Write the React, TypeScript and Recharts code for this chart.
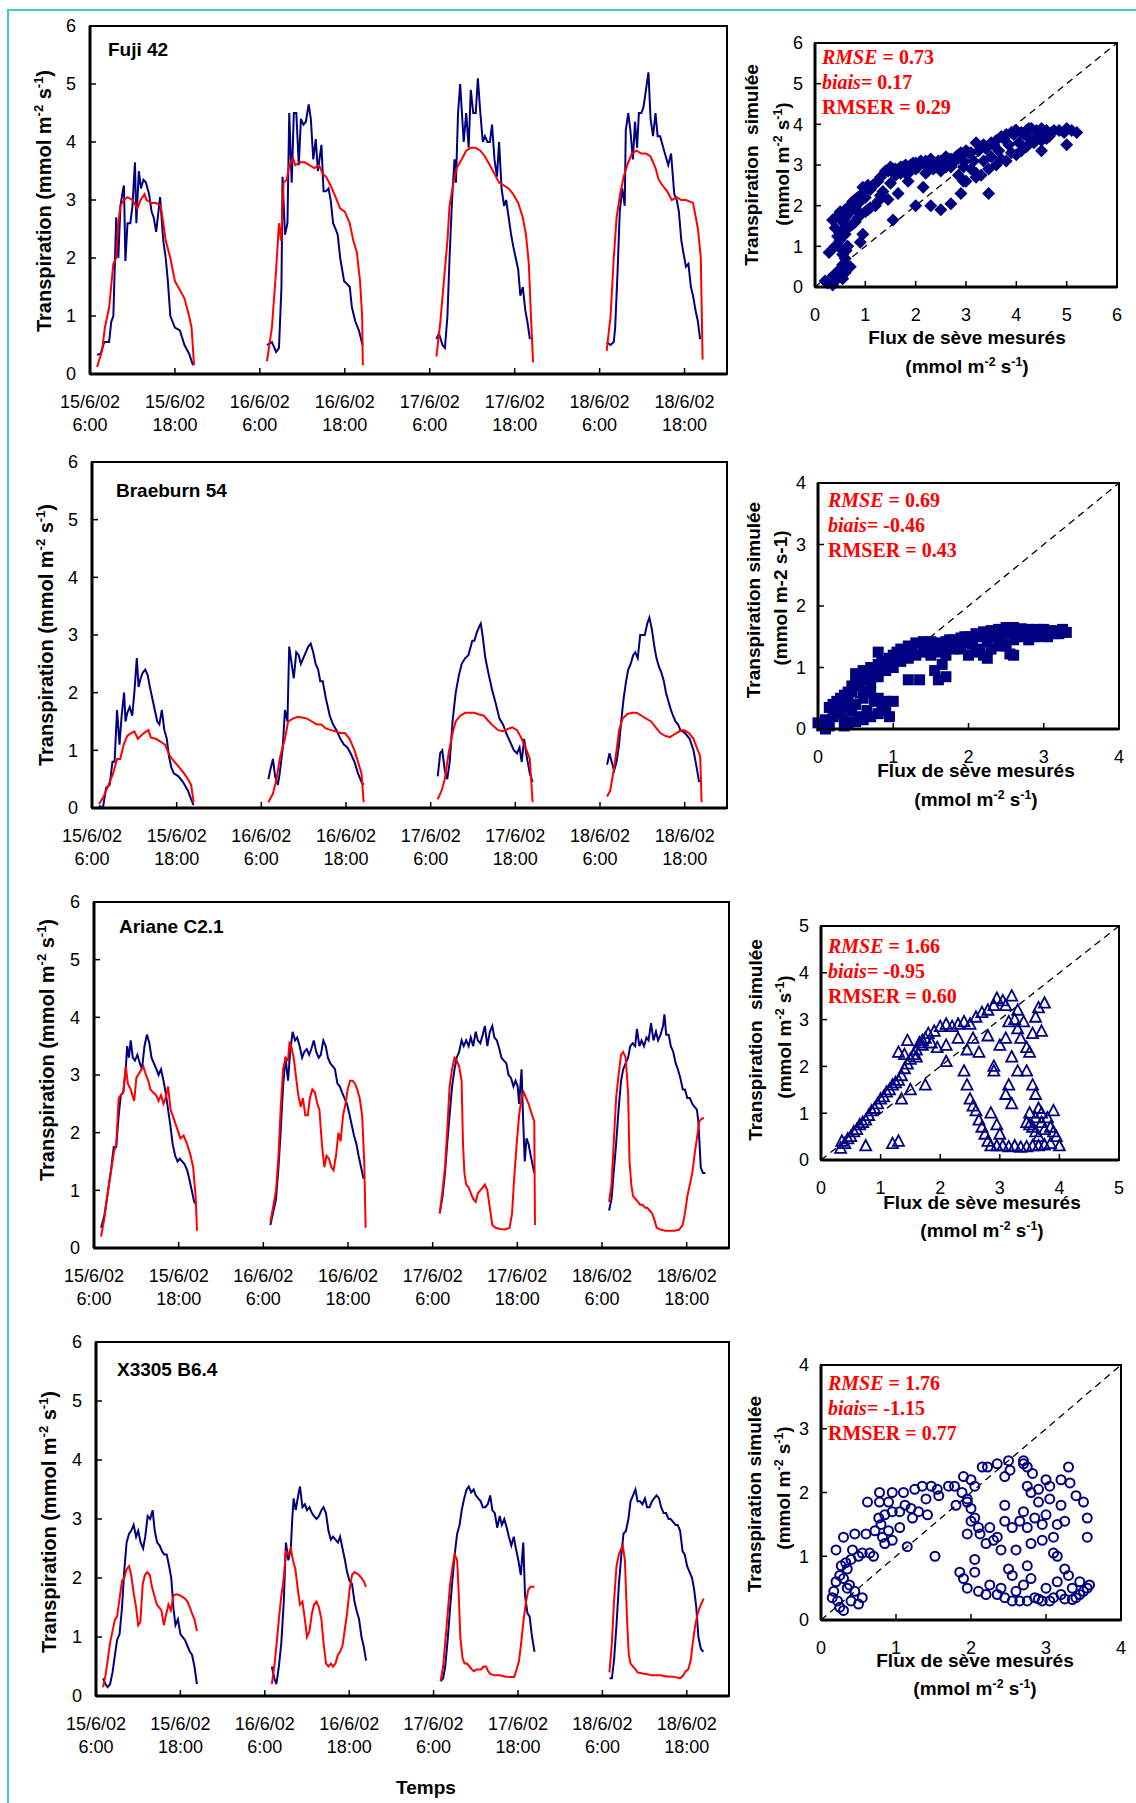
import React from "react";
import { LineChart, Line, XAxis, YAxis, ScatterChart, Scatter, ReferenceLine } from "recharts";

const NAVY = "#000080";
const RED = "#ff0000";
const SANS = '"Liberation Sans", Arial, Helvetica, sans-serif';
const SERIF = '"Liberation Serif", "Times New Roman", serif';

// x axis of the time series: days (15/6 6:00 = 15.25)
const tickDays = [15.25, 15.75, 16.25, 16.75, 17.25, 17.75, 18.25, 18.75];
const tickDates = ["15/6/02", "15/6/02", "16/6/02", "16/6/02", "17/6/02", "17/6/02", "18/6/02", "18/6/02"];
const tickTimes = ["6:00", "18:00", "6:00", "18:00", "6:00", "18:00", "6:00", "18:00"];
const dayStarts = [15, 16, 17, 18];
const yTicks6 = [0, 1, 2, 3, 4, 5, 6];

// [hour of day, transpiration] — Fuji 42
const fujiMes15 = [[7.0,0.33],[7.5,0.35],[8.0,0.55],[8.7,0.55],[9.0,0.9],[9.3,1.0],[9.7,2.7],[10.0,2.0],[10.3,2.9],[10.7,3.2],[10.8,3.25],[11.0,1.95],[11.3,2.6],[11.7,2.6],[12.0,2.9],[12.35,3.65],[12.55,2.6],[12.9,3.5],[13.2,3.2],[13.55,3.35],[13.9,3.3],[14.35,3.1],[14.7,2.8],[15.0,2.7],[15.35,2.45],[15.9,3.05],[16.35,2.3],[16.7,2.0],[17.0,1.6],[17.35,1.0],[18.0,0.8],[18.7,0.75],[19.35,0.5],[20.0,0.35],[20.55,0.15]];
const fujiSim15 = [[7.0,0.12],[7.7,0.4],[8.1,0.8],[8.7,1.15],[9.3,1.9],[9.7,2.0],[10.0,2.6],[10.3,2.9],[10.8,3.0],[11.3,3.05],[12.0,3.0],[12.7,2.85],[13.15,3.0],[13.7,3.1],[14.0,3.0],[14.7,2.95],[15.35,2.95],[16.0,2.9],[16.35,2.6],[16.7,2.3],[17.35,2.0],[18.0,1.6],[18.7,1.45],[19.35,1.3],[20.0,1.0],[20.35,0.8],[20.7,0.15]];
const fujiMes16 = [[7.0,0.5],[7.7,0.55],[8.3,0.38],[8.7,0.45],[9.05,1.5],[9.2,3.4],[9.55,2.4],[9.9,2.6],[10.15,4.5],[10.5,3.3],[10.8,4.5],[11.15,4.5],[11.5,3.6],[11.8,4.4],[12.15,4.3],[12.5,4.35],[12.9,4.65],[13.2,4.4],[13.55,3.7],[13.9,4.05],[14.2,3.5],[14.7,3.95],[15.0,3.15],[15.35,3.15],[15.7,3.2],[16.0,3.0],[16.35,2.6],[16.7,2.5],[17.0,2.4],[17.35,2.0],[17.9,1.6],[18.35,1.55],[18.7,1.5],[19.0,1.15],[19.5,0.9],[20.0,0.75],[20.5,0.5]];
const fujiSim16 = [[7.0,0.22],[7.7,0.8],[8.3,1.8],[8.7,2.6],[9.0,2.3],[9.35,3.3],[9.8,3.35],[10.15,3.6],[10.7,3.72],[11.0,3.6],[11.7,3.65],[12.35,3.65],[13.0,3.6],[13.7,3.55],[14.35,3.6],[14.9,3.45],[15.35,3.4],[16.0,3.25],[16.7,3.05],[17.35,2.85],[18.0,2.8],[18.7,2.6],[19.2,2.3],[19.7,2.1],[20.15,1.6],[20.45,1.0],[20.55,0.15]];
const fujiMes17 = [[6.95,0.6],[7.3,0.7],[7.8,0.5],[8.15,0.45],[8.5,1.0],[8.8,2.0],[9.15,3.0],[9.5,3.7],[9.7,3.3],[10.0,4.5],[10.3,5.0],[10.55,4.5],[10.8,4.0],[11.15,4.5],[11.5,3.9],[11.8,4.9],[12.15,4.5],[12.5,4.5],[12.8,5.1],[13.15,4.5],[13.5,4.0],[13.8,4.1],[14.15,4.0],[14.5,4.0],[14.8,4.3],[15.15,3.7],[15.5,3.4],[15.8,4.0],[16.15,3.2],[16.5,2.9],[16.8,3.0],[17.15,2.7],[17.5,2.4],[17.8,2.2],[18.15,2.0],[18.5,1.8],[18.8,1.35],[19.15,1.5],[19.5,1.1],[19.8,0.9],[20.15,0.6]];
const fujiSim17 = [[6.95,0.3],[7.5,0.9],[8.0,1.6],[8.5,2.3],[8.8,2.9],[9.35,3.3],[9.8,3.55],[10.5,3.7],[11.15,3.85],[11.8,3.9],[12.5,3.9],[13.15,3.85],[13.8,3.75],[14.5,3.6],[15.15,3.45],[15.8,3.3],[16.5,3.25],[17.15,3.2],[17.8,3.1],[18.5,2.95],[19.15,2.7],[19.6,2.4],[20.0,1.9],[20.3,1.0],[20.6,0.2]];
const fujiMes18 = [[7.0,0.55],[7.55,0.5],[8.0,0.55],[8.2,0.8],[8.55,1.8],[8.85,2.8],[9.2,3.2],[9.55,2.9],[9.7,4.2],[10.05,4.5],[10.35,4.2],[10.7,3.7],[11.0,4.35],[11.3,3.9],[11.55,4.5],[11.9,4.5],[12.2,4.6],[12.55,4.9],[12.9,5.2],[13.2,4.4],[13.55,4.1],[13.9,4.5],[14.2,4.1],[14.55,4.1],[15.0,3.9],[15.35,3.75],[15.7,3.6],[16.1,3.8],[16.55,3.1],[16.9,3.0],[17.2,2.8],[17.55,2.3],[17.9,2.05],[18.2,1.85],[18.55,1.9],[18.9,1.5],[19.2,1.35],[19.55,1.1],[19.9,0.9],[20.2,0.6]];
const fujiSim18 = [[7.0,0.4],[7.55,1.0],[8.0,2.0],[8.4,2.7],[8.9,3.1],[9.4,3.4],[9.9,3.6],[10.55,3.8],[11.2,3.85],[11.9,3.8],[12.55,3.8],[13.2,3.75],[13.9,3.55],[14.35,3.35],[14.9,3.25],[15.55,3.15],[16.2,3.0],[16.9,3.05],[17.55,3.0],[18.2,3.0],[19.2,2.95],[19.9,2.5],[20.3,2.0],[20.55,0.25]];

// Braeburn 54
const braeMes15 = [[7.0,0.04],[7.55,0.0],[8.0,0.35],[8.5,0.4],[8.9,0.8],[9.2,0.8],[9.55,1.7],[9.9,1.1],[10.2,1.6],[10.55,2.0],[10.75,1.5],[11.0,1.65],[11.35,1.75],[11.7,1.6],[12.0,2.0],[12.35,2.6],[12.6,2.1],[12.9,2.25],[13.2,2.35],[13.55,2.4],[13.9,2.3],[14.2,2.1],[14.55,1.9],[14.9,1.7],[15.25,1.5],[15.55,1.45],[15.9,1.7],[16.25,1.35],[16.6,1.2],[16.9,0.9],[17.25,0.7],[17.6,0.6],[18.25,0.55],[18.9,0.45],[19.6,0.3],[20.05,0.15],[20.4,0.05]];
const braeSim15 = [[7.0,0.07],[7.65,0.2],[8.35,0.4],[9.0,0.6],[9.55,0.85],[10.0,0.85],[10.5,1.1],[11.0,1.25],[11.55,1.3],[12.0,1.33],[12.5,1.2],[12.9,1.25],[13.35,1.3],[14.0,1.35],[14.35,1.22],[15.05,1.2],[15.7,1.15],[16.35,1.1],[17.05,0.9],[17.7,0.8],[18.4,0.7],[19.05,0.6],[19.6,0.5],[20.05,0.4],[20.4,0.1]];
const braeMes16 = [[7.0,0.5],[7.25,0.65],[7.65,0.85],[7.95,0.55],[8.35,0.4],[8.6,0.6],[9.0,1.0],[9.35,1.7],[9.7,1.5],[9.95,2.8],[10.3,2.5],[10.6,2.25],[10.95,2.7],[11.3,2.65],[11.6,2.5],[11.95,2.6],[12.3,2.7],[12.65,2.8],[13.0,2.85],[13.35,2.7],[13.7,2.5],[14.05,2.4],[14.35,2.2],[14.7,2.2],[15.15,1.9],[15.7,1.6],[16.15,1.45],[16.65,1.35],[17.2,1.2],[17.7,1.1],[18.2,1.05],[18.65,0.95],[19.2,0.8],[19.7,0.6],[20.2,0.45],[20.5,0.4]];
const braeSim16 = [[7.0,0.1],[7.65,0.25],[8.15,0.5],[8.6,0.85],[9.0,1.05],[9.35,1.2],[9.8,1.5],[10.5,1.55],[11.15,1.58],[11.8,1.57],[12.5,1.55],[13.15,1.5],[13.85,1.45],[14.5,1.45],[15.15,1.38],[15.85,1.35],[16.5,1.33],[17.15,1.3],[17.85,1.3],[18.5,1.2],[19.2,1.0],[19.7,0.8],[20.2,0.6],[20.5,0.1]];
const braeMes17 = [[7.0,0.55],[7.35,0.95],[7.65,1.0],[8.0,0.65],[8.35,0.5],[8.7,0.8],[9.1,1.5],[9.55,2.0],[10.0,2.3],[10.4,2.5],[10.9,2.6],[11.35,2.65],[11.9,2.9],[12.2,2.9],[12.55,3.05],[12.9,3.15],[13.1,3.2],[13.35,3.0],[13.75,2.6],[14.25,2.3],[14.7,2.05],[15.25,1.8],[15.75,1.55],[16.25,1.45],[16.7,1.3],[17.25,1.15],[17.8,1.0],[18.25,0.95],[18.6,1.05],[18.9,0.8],[19.25,1.2],[19.6,0.9],[20.05,0.6],[20.45,0.45]];
const braeSim17 = [[7.0,0.15],[7.55,0.3],[8.0,0.5],[8.55,0.95],[9.1,1.3],[9.55,1.5],[10.2,1.6],[10.9,1.65],[11.55,1.65],[12.2,1.65],[12.9,1.62],[13.55,1.6],[14.25,1.5],[14.9,1.42],[15.55,1.35],[16.25,1.33],[16.9,1.37],[17.55,1.4],[18.25,1.35],[18.9,1.2],[19.6,1.0],[20.05,0.85],[20.45,0.1]];
const braeMes18 = [[7.0,0.75],[7.35,0.95],[7.65,0.8],[8.0,0.65],[8.35,0.8],[8.7,1.1],[9.0,1.5],[9.35,1.9],[9.7,2.2],[10.0,2.4],[10.35,2.5],[10.7,2.65],[11.0,2.7],[11.35,2.6],[11.7,3.0],[12.0,3.0],[12.35,3.0],[12.7,3.2],[13.0,3.3],[13.35,3.1],[13.7,2.8],[14.0,2.6],[14.35,2.45],[14.7,2.35],[15.05,2.2],[15.35,2.0],[15.7,1.85],[16.05,1.7],[16.35,1.6],[16.7,1.5],[17.05,1.45],[17.4,1.35],[18.05,1.3],[18.7,1.2],[19.25,1.0],[19.7,0.7],[20.05,0.45]];
const braeSim18 = [[7.0,0.2],[7.45,0.3],[8.0,0.7],[8.35,1.0],[8.7,1.35],[9.2,1.55],[9.9,1.63],[10.55,1.65],[11.2,1.65],[11.9,1.6],[12.55,1.55],[13.25,1.5],[13.9,1.4],[14.55,1.3],[15.25,1.25],[15.9,1.23],[16.6,1.28],[17.25,1.33],[17.9,1.35],[18.6,1.3],[19.25,1.2],[19.7,1.05],[20.2,0.9],[20.4,0.1]];

// Ariane C2.1
const arMes15 = [[7.0,0.35],[7.45,0.55],[8.0,1.0],[8.45,1.4],[8.8,1.75],[9.15,1.75],[9.5,2.3],[9.8,2.65],[10.15,2.7],[10.5,3.1],[10.7,3.5],[10.95,3.3],[11.2,3.6],[11.5,3.3],[11.8,3.25],[12.15,3.35],[12.5,3.2],[12.8,3.1],[13.15,3.5],[13.5,3.7],[13.85,3.55],[14.15,3.3],[14.5,3.2],[14.85,3.1],[15.15,3.0],[15.5,3.1],[15.85,2.9],[16.15,2.7],[16.5,2.4],[16.85,2.1],[17.15,1.8],[17.5,1.6],[17.85,1.5],[18.15,1.55],[18.5,1.5],[18.85,1.45],[19.2,1.35],[19.5,1.2],[19.85,1.0],[20.2,0.8],[20.5,0.75]];
const arSim15 = [[7.0,0.2],[7.45,0.5],[8.0,1.0],[8.45,1.35],[8.8,1.65],[9.15,1.8],[9.5,2.6],[9.8,2.65],[10.15,2.7],[10.5,3.15],[10.8,2.85],[11.2,2.75],[11.7,2.55],[12.0,2.95],[12.5,3.05],[13.0,3.15],[13.35,3.0],[13.7,2.9],[14.0,2.75],[14.35,2.7],[14.8,2.65],[15.15,2.55],[15.5,2.65],[15.85,2.5],[16.15,2.6],[16.5,2.8],[16.85,2.4],[17.15,2.3],[17.7,2.1],[18.25,1.9],[18.7,1.95],[19.2,1.8],[19.7,1.6],[20.05,1.4],[20.4,0.9],[20.6,0.3]];
const arMes16 = [[7.0,0.4],[7.45,0.65],[7.8,0.85],[8.15,1.4],[8.45,2.0],[8.8,2.8],[9.15,3.3],[9.5,2.9],[9.8,3.4],[10.15,3.75],[10.5,3.6],[10.8,3.65],[11.15,3.5],[11.5,3.3],[11.8,3.4],[12.15,3.45],[12.5,3.35],[12.8,3.45],[13.15,3.6],[13.5,3.4],[13.85,3.3],[14.15,3.35],[14.5,3.6],[14.85,3.5],[15.15,3.3],[15.5,3.2],[15.85,3.15],[16.15,3.1],[16.5,2.85],[16.85,2.8],[17.15,2.7],[17.5,2.6],[17.85,2.5],[18.15,2.35],[18.5,2.15],[18.85,1.95],[19.2,1.8],[19.5,1.6],[19.85,1.4],[20.2,1.2]];
const arSim16 = [[7.0,0.45],[7.45,0.75],[7.8,1.0],[8.15,1.6],[8.45,2.4],[8.8,3.1],[9.15,3.3],[9.5,3.25],[9.7,3.55],[9.95,3.5],[10.3,3.3],[10.6,3.0],[10.95,2.65],[11.3,2.45],[11.6,2.6],[11.95,2.3],[12.3,2.3],[12.6,2.6],[12.95,2.75],[13.3,2.7],[13.65,2.5],[13.95,2.4],[14.3,1.8],[14.65,1.4],[14.95,1.6],[15.3,1.55],[15.65,1.4],[15.95,1.35],[16.3,1.6],[16.65,2.0],[16.95,1.85],[17.3,2.3],[17.65,2.5],[17.95,2.75],[18.3,2.9],[18.65,2.9],[19.0,2.85],[19.3,2.75],[19.65,2.6],[20.0,2.3],[20.3,1.5],[20.5,0.35]];
const arMes17 = [[7.0,0.6],[7.4,0.9],[7.75,1.3],[8.05,1.8],[8.4,2.3],[8.75,2.8],[9.1,3.1],[9.4,3.3],[9.75,3.4],[10.1,3.6],[10.4,3.5],[10.75,3.6],[11.1,3.5],[11.4,3.65],[11.75,3.5],[12.1,3.75],[12.4,3.6],[12.75,3.55],[13.1,3.7],[13.4,3.85],[13.75,3.5],[14.1,3.75],[14.45,3.85],[14.75,3.65],[15.1,3.6],[15.45,3.45],[15.75,3.3],[16.1,3.25],[16.45,3.2],[16.75,3.0],[17.1,2.95],[17.45,2.8],[17.75,2.9],[18.05,2.8],[18.25,2.5],[18.6,3.1],[18.8,2.3],[19.05,1.5],[19.3,1.9],[19.6,1.8],[19.9,1.6],[20.4,1.3]];
const arSim17 = [[7.0,0.6],[7.4,1.0],[7.75,1.4],[8.05,2.0],[8.4,2.8],[8.75,3.1],[9.1,3.3],[9.4,3.25],[9.75,3.15],[10.1,2.9],[10.3,1.8],[10.5,1.3],[10.75,1.1],[11.1,1.05],[11.4,0.95],[11.75,0.85],[12.1,0.8],[12.4,0.95],[12.75,1.0],[13.1,1.05],[13.4,1.1],[13.75,1.0],[14.1,0.7],[14.45,0.4],[14.9,0.35],[15.55,0.33],[16.25,0.32],[16.9,0.35],[17.25,0.6],[17.55,1.2],[17.9,1.8],[18.25,2.3],[18.6,2.6],[18.9,2.7],[19.25,2.6],[19.6,2.5],[20.1,2.3],[20.4,2.2],[20.5,0.4]];
const arMes18 = [[7.0,0.65],[7.35,0.85],[7.65,1.3],[8.0,1.8],[8.35,2.4],[8.7,2.9],[9.0,3.1],[9.35,3.2],[9.7,3.3],[10.0,3.5],[10.35,3.55],[10.7,3.5],[10.95,3.8],[11.3,3.5],[11.6,3.6],[11.95,3.5],[12.3,3.65],[12.6,3.6],[12.95,3.9],[13.3,3.6],[13.65,3.75],[13.95,3.6],[14.3,3.7],[14.65,3.85],[14.85,4.05],[15.1,3.7],[15.45,3.7],[15.75,3.5],[16.1,3.4],[16.45,3.2],[16.75,3.1],[17.1,2.95],[17.45,2.75],[17.75,2.75],[18.1,2.6],[18.45,2.6],[18.8,2.5],[19.1,2.45],[19.45,2.4],[19.65,2.2],[20.0,1.4],[20.3,1.3],[20.65,1.3]];
const arSim18 = [[7.0,0.8],[7.35,1.1],[7.65,1.8],[8.0,2.6],[8.35,3.0],[8.7,3.35],[9.0,3.4],[9.35,3.3],[9.7,2.7],[9.9,1.5],[10.15,1.1],[10.4,0.9],[10.75,0.85],[11.1,0.8],[11.4,0.75],[11.75,0.75],[12.1,0.7],[12.4,0.7],[12.75,0.65],[13.1,0.6],[13.4,0.5],[13.75,0.35],[14.3,0.32],[14.95,0.3],[15.65,0.3],[16.3,0.3],[16.95,0.32],[17.45,0.4],[17.75,0.6],[18.1,0.9],[18.45,1.1],[18.8,1.3],[19.1,1.6],[19.45,1.9],[19.8,2.2],[20.2,2.25],[20.45,2.25]];

// X3305 B6.4
const xMes15 = [[7.0,0.3],[7.35,0.2],[7.65,0.15],[8.0,0.2],[8.35,0.4],[8.7,0.7],[9.0,0.95],[9.35,1.05],[9.7,1.5],[10.0,2.1],[10.35,2.6],[10.7,2.75],[11.0,2.8],[11.35,2.9],[11.7,2.7],[12.0,2.8],[12.35,2.6],[12.7,2.5],[13.0,2.7],[13.35,3.05],[13.7,3.0],[14.05,3.15],[14.35,2.8],[14.7,2.6],[15.05,2.55],[15.4,2.45],[15.7,2.4],[16.05,2.4],[16.4,2.2],[16.7,2.0],[17.0,1.5],[17.3,1.2],[17.65,1.3],[18.0,1.05],[18.3,1.0],[18.65,0.95],[19.0,0.85],[19.35,0.75],[19.65,0.7],[20.0,0.5],[20.35,0.2]];
const xSim15 = [[7.0,0.15],[7.35,0.35],[7.65,0.6],[8.0,0.9],[8.35,1.1],[8.7,1.3],[9.0,1.35],[9.35,1.65],[9.7,1.95],[10.0,2.0],[10.35,2.15],[10.7,2.2],[11.0,2.05],[11.35,1.75],[11.7,1.5],[12.0,1.2],[12.3,1.25],[12.65,1.9],[12.95,2.05],[13.3,2.1],[13.65,2.05],[13.95,1.85],[14.3,1.7],[14.65,1.55],[15.0,1.5],[15.3,1.45],[15.65,1.2],[16.0,1.4],[16.3,1.55],[16.65,1.45],[17.0,1.7],[17.3,1.72],[17.65,1.72],[18.0,1.7],[18.3,1.68],[18.65,1.65],[19.0,1.6],[19.35,1.5],[19.65,1.4],[20.0,1.3],[20.35,1.1]];
const xMes16 = [[7.0,0.5],[7.35,0.3],[7.65,0.2],[8.0,0.5],[8.35,0.9],[8.7,1.6],[9.0,2.6],[9.35,2.3],[9.7,2.5],[9.9,3.0],[10.1,3.35],[10.4,3.15],[10.75,3.4],[11.0,3.55],[11.35,3.2],[11.7,3.25],[12.0,3.15],[12.35,3.2],[12.7,3.1],[13.0,3.05],[13.35,3.0],[13.7,3.05],[14.05,3.15],[14.35,3.2],[14.7,3.1],[15.05,2.8],[15.4,2.65],[15.7,2.7],[16.05,2.65],[16.4,2.6],[16.7,2.7],[17.05,2.5],[17.4,2.3],[17.7,2.1],[18.05,1.95],[18.4,1.9],[18.75,1.6],[19.05,1.45],[19.4,1.3],[19.75,1.0],[20.05,0.85],[20.4,0.6]];
const xSim16 = [[7.0,0.2],[7.35,0.5],[7.65,0.85],[8.0,1.3],[8.35,1.7],[8.7,2.0],[9.0,2.45],[9.35,2.4],[9.7,2.5],[10.0,2.3],[10.35,2.15],[10.7,1.8],[11.0,1.55],[11.35,1.6],[11.7,1.3],[12.0,1.0],[12.35,1.1],[12.7,1.4],[13.0,1.55],[13.35,1.6],[13.7,1.5],[14.05,1.3],[14.35,0.9],[14.7,0.55],[15.05,0.5],[15.4,0.55],[15.7,0.5],[16.05,0.55],[16.4,0.7],[16.7,0.75],[17.05,0.85],[17.4,1.15],[17.7,1.4],[18.05,1.8],[18.4,2.05],[18.75,2.1],[19.05,2.08],[19.4,2.05],[19.75,2.0],[20.05,1.95],[20.4,1.85]];
const xMes17 = [[7.0,0.25],[7.35,0.3],[7.65,0.5],[8.0,0.95],[8.35,1.5],[8.7,2.0],[9.0,2.4],[9.35,2.75],[9.7,2.9],[10.0,3.15],[10.35,3.35],[10.7,3.5],[11.0,3.55],[11.35,3.45],[11.7,3.5],[12.0,3.4],[12.35,3.35],[12.7,3.3],[13.0,3.2],[13.35,3.2],[13.7,3.25],[14.05,3.4],[14.35,3.15],[14.7,3.1],[15.05,2.85],[15.4,3.05],[15.7,2.9],[16.05,3.0],[16.4,2.85],[16.7,2.7],[17.05,2.55],[17.4,2.7],[17.7,2.5],[18.05,2.3],[18.4,2.05],[18.75,2.6],[19.0,1.7],[19.35,1.4],[19.65,1.35],[20.0,1.0],[20.35,0.75]];
const xSim17 = [[7.0,0.25],[7.35,0.5],[7.65,0.9],[8.0,1.4],[8.35,1.9],[8.7,2.2],[9.0,2.4],[9.35,2.3],[9.55,1.8],[9.8,1.0],[10.1,0.65],[10.4,0.55],[10.75,0.55],[11.1,0.5],[11.45,0.45],[11.75,0.42],[12.1,0.45],[12.45,0.45],[12.75,0.45],[13.1,0.5],[13.45,0.5],[13.75,0.42],[14.1,0.37],[14.75,0.35],[15.45,0.35],[16.1,0.33],[16.8,0.32],[17.45,0.32],[17.8,0.45],[18.15,0.6],[18.45,0.9],[18.8,1.3],[19.15,1.6],[19.45,1.8],[19.8,1.85],[20.15,1.85],[20.35,1.85]];
const xMes18 = [[7.0,0.3],[7.35,0.3],[7.65,0.6],[8.0,1.2],[8.35,1.9],[8.7,2.4],[9.0,2.75],[9.35,2.8],[9.7,3.0],[10.0,3.3],[10.35,3.4],[10.7,3.5],[11.0,3.3],[11.35,3.3],[11.7,3.25],[12.05,3.35],[12.35,3.2],[12.7,3.2],[13.05,3.3],[13.35,3.35],[13.7,3.4],[14.05,3.35],[14.35,3.2],[14.7,3.1],[15.05,3.1],[15.4,3.0],[15.7,3.0],[16.05,2.95],[16.4,2.9],[16.7,2.9],[17.05,2.8],[17.4,2.45],[17.7,2.4],[18.05,2.2],[18.4,2.1],[18.75,2.0],[19.05,1.8],[19.35,1.5],[19.65,1.0],[20.0,0.8],[20.35,0.75]];
const xSim18 = [[7.0,0.4],[7.35,0.9],[7.65,1.6],[8.0,2.2],[8.35,2.4],[8.7,2.5],[8.9,2.55],[9.2,2.3],[9.5,1.3],[9.75,0.7],[10.0,0.55],[10.35,0.5],[10.7,0.45],[11.0,0.4],[11.7,0.38],[12.35,0.37],[13.05,0.35],[13.7,0.35],[14.35,0.35],[15.05,0.33],[15.7,0.33],[16.4,0.32],[17.05,0.3],[17.5,0.35],[17.85,0.42],[18.2,0.45],[18.55,0.6],[18.85,0.9],[19.2,1.2],[19.55,1.4],[20.0,1.55],[20.4,1.65]];

// scatter: [measured sap flux, simulated transpiration]
const fujiScatter = [[0.2,0.15],[0.25,0.1],[0.3,0.2],[0.35,0.05],[0.38,0.3],[0.4,0.15],[0.45,0.35],[0.5,0.25],[0.5,0.45],[0.55,0.2],[0.55,0.55],[0.6,0.35],[0.6,0.7],[0.65,0.5],[0.55,0.8],[0.5,0.95],[0.62,0.9],[0.65,1.0],[0.7,0.5],[0.28,0.85],[0.35,1.65],[0.4,1.45],[0.45,1.75],[0.5,1.85],[0.55,1.6],[0.6,1.7],[0.65,1.95],[0.7,2.0],[0.75,2.1],[0.8,2.15],[0.85,2.2],[0.9,2.25],[0.95,2.45],[1.0,2.4],[1.05,2.5],[1.1,2.4],[1.2,2.55],[1.3,2.7],[1.4,2.85],[1.5,2.95],[1.6,2.9],[1.7,2.95],[1.8,3.0],[1.9,3.0],[2.0,3.05],[2.1,3.1],[2.2,3.1],[2.3,3.15],[2.4,3.05],[2.5,3.1],[2.6,3.2],[2.7,3.15],[2.8,3.2],[2.9,3.3],[3.0,3.35],[3.1,3.3],[3.2,3.55],[3.3,3.45],[3.4,3.4],[3.5,3.55],[3.6,3.6],[3.7,3.7],[3.8,3.75],[3.9,3.8],[4.0,3.85],[4.1,3.8],[4.2,3.85],[4.3,3.9],[4.4,3.85],[4.5,3.9],[4.6,3.85],[4.7,3.8],[4.85,3.85],[5.0,3.9],[5.1,3.85],[5.2,3.8],[0.4,1.0],[0.5,1.15],[0.6,1.3],[0.7,1.5],[0.8,1.6],[0.9,1.8],[1.0,1.85],[1.1,1.95],[1.2,2.0],[1.35,2.35],[1.5,2.55],[1.6,2.75],[1.8,2.8],[2.0,2.9],[2.2,2.8],[2.35,2.9],[2.5,2.85],[2.7,2.95],[2.85,2.75],[2.95,2.95],[3.0,2.6],[3.1,2.9],[3.2,2.8],[3.3,2.75],[3.45,2.9],[3.6,3.0],[3.7,3.15],[3.8,3.1],[3.9,3.3],[4.0,3.25],[4.1,3.35],[4.2,3.45],[4.35,3.55],[4.5,3.6],[4.6,3.65],[4.65,3.7],[0.9,1.1],[0.95,1.3],[1.45,2.15],[1.55,1.65],[1.65,2.3],[1.85,2.6],[2.0,2.0],[2.15,2.45],[2.3,2.0],[2.5,1.9],[2.7,2.05],[2.9,2.3],[2.95,2.6],[3.45,2.3],[4.5,3.35],[5.0,3.5],[3.2,2.7],[3.5,3.2],[1.15,2.5],[1.25,2.6],[1.45,2.85],[1.55,2.9],[1.75,2.95],[1.95,3.05],[2.15,3.05],[2.45,3.1],[2.65,3.15],[2.85,3.25],[3.05,3.3],[3.25,3.35],[3.35,3.5],[3.55,3.5],[3.75,3.65],[3.95,3.75],[4.15,3.75],[4.25,3.9],[4.45,3.8],[4.55,3.75],[4.75,3.85],[4.95,3.8],[3.85,3.5],[4.05,3.55],[4.25,3.65],[4.4,3.7],[3.65,3.35],[3.35,3.1],[3.15,3.1],[2.95,3.1],[2.75,3.05],[2.6,2.95],[2.4,2.95],[2.25,3.0],[2.05,2.95],[1.9,2.85],[1.7,2.8],[0.45,1.25],[0.55,1.4],[0.65,1.45],[0.75,1.55],[0.85,1.7],[1.05,1.9],[1.25,2.1],[1.3,2.25],[0.7,1.85],[0.8,1.95],[0.9,2.1],[1.0,2.2],[0.6,1.9],[0.5,1.7]];
const braeScatter = [[0.0,0.1],[0.05,0.05],[0.1,0.0],[0.1,0.15],[0.15,0.05],[0.15,0.35],[0.2,0.4],[0.25,0.45],[0.3,0.5],[0.35,0.55],[0.3,0.25],[0.35,0.15],[0.4,0.6],[0.45,0.7],[0.5,0.75],[0.5,0.9],[0.55,0.85],[0.6,0.95],[0.65,0.9],[0.7,1.0],[0.75,1.0],[0.8,1.05],[0.85,1.1],[0.9,1.1],[0.95,1.15],[1.0,1.2],[1.05,1.25],[1.1,1.3],[1.2,1.35],[1.3,1.4],[1.4,1.42],[1.5,1.42],[1.6,1.4],[1.7,1.42],[1.8,1.45],[1.9,1.48],[2.0,1.5],[2.1,1.55],[2.2,1.58],[2.3,1.6],[2.4,1.62],[2.5,1.65],[2.6,1.65],[2.7,1.63],[2.8,1.62],[2.9,1.62],[3.0,1.62],[3.1,1.6],[3.2,1.58],[3.3,1.57],[0.6,0.6],[0.7,0.75],[0.8,0.85],[0.9,0.95],[1.0,1.0],[1.1,1.1],[1.2,1.15],[1.3,1.2],[1.4,1.25],[1.5,1.2],[1.6,1.25],[1.7,1.2],[1.8,1.3],[1.9,1.3],[2.0,1.2],[2.1,1.25],[2.2,1.2],[2.3,1.3],[2.4,1.35],[2.5,1.35],[2.6,1.45],[2.7,1.5],[2.8,1.45],[2.9,1.5],[3.0,1.52],[3.2,1.55],[2.55,1.22],[2.15,1.3],[1.95,1.4],[2.75,1.55],[1.45,1.3],[1.75,1.35],[2.05,1.45],[2.45,1.5],[2.85,1.55],[3.05,1.5],[0.35,0.05],[0.4,0.1],[0.5,0.12],[0.6,0.15],[0.7,0.2],[0.8,0.25],[0.9,0.3],[1.0,0.45],[0.95,0.2],[0.85,0.35],[0.75,0.45],[0.7,0.6],[0.6,0.5],[0.5,0.4],[0.45,0.3],[0.35,0.35],[0.65,0.3],[0.55,0.2],[0.8,0.5],[0.9,0.45],[0.8,1.25],[1.2,0.8],[1.35,0.8],[1.6,0.8],[1.7,0.85],[2.6,1.2],[1.55,0.95],[1.65,1.05],[2.25,1.15],[1.55,1.35],[1.65,1.35],[1.85,1.38],[2.05,1.38],[2.25,1.42],[2.35,1.5],[2.55,1.55],[2.65,1.58],[2.95,1.58],[3.15,1.55],[3.25,1.62],[2.45,1.6],[2.15,1.5],[1.95,1.5],[1.75,1.45],[1.25,1.3],[1.15,1.2],[1.05,1.15],[0.95,1.05],[0.85,1.0],[0.75,0.9],[0.65,0.8],[0.55,0.7],[0.45,0.6],[0.4,0.45],[0.25,0.3],[0.2,0.2]];
const arScatter = [[0.33,0.25],[0.35,0.4],[0.4,0.35],[0.45,0.45],[0.5,0.5],[0.55,0.6],[0.6,0.65],[0.65,0.75],[0.7,0.8],[0.75,0.85],[0.8,0.95],[0.85,1.05],[0.9,1.1],[0.95,1.2],[1.0,1.3],[1.05,1.35],[1.1,1.45],[1.15,1.5],[1.2,1.6],[1.25,1.65],[1.3,1.7],[1.35,1.8],[1.4,1.95],[1.45,2.05],[1.5,2.15],[1.55,2.25],[1.6,2.35],[1.65,2.5],[1.7,2.55],[1.75,2.6],[1.8,2.7],[1.9,2.75],[2.0,2.85],[2.1,2.9],[2.2,2.85],[2.3,2.9],[2.4,2.95],[2.5,2.9],[2.6,3.05],[2.7,3.15],[2.8,3.2],[2.9,3.3],[1.45,2.55],[1.4,2.25],[1.3,2.3],[1.6,2.2],[1.7,2.45],[1.85,2.5],[1.95,2.4],[2.1,2.45],[2.3,2.6],[2.45,2.35],[2.55,2.6],[2.65,2.3],[2.8,2.65],[3.0,2.45],[3.05,3.4],[3.1,3.3],[3.2,3.5],[3.25,3.0],[3.3,2.8],[3.35,2.6],[3.4,2.95],[3.45,2.4],[3.5,2.3],[3.55,2.7],[3.6,3.05],[3.65,3.25],[3.7,2.75],[3.75,3.35],[3.1,2.6],[3.2,2.2],[3.3,3.2],[2.95,3.45],[3.15,2.95],[2.1,2.1],[2.4,1.9],[2.45,1.6],[2.5,1.3],[2.55,1.15],[2.6,1.05],[2.65,0.85],[2.7,0.7],[2.75,0.55],[2.8,0.4],[2.85,1.0],[2.9,1.9],[2.9,2.0],[2.95,0.75],[3.0,0.55],[3.1,1.4],[3.15,1.6],[3.2,1.2],[3.3,1.9],[3.45,1.9],[3.55,1.6],[3.6,1.4],[3.7,1.0],[2.85,0.3],[2.95,0.3],[3.05,0.3],[3.15,0.28],[3.25,0.3],[3.35,0.27],[3.45,0.28],[3.55,0.3],[3.65,0.3],[3.75,0.32],[3.85,0.35],[4.0,0.3],[3.9,0.6],[3.45,0.8],[3.5,1.0],[3.55,0.7],[3.6,0.9],[3.65,1.1],[3.7,0.8],[3.75,0.65],[3.8,0.9],[3.85,0.7],[3.9,1.05],[3.95,0.5],[3.6,0.6],[3.5,0.75],[3.65,0.5],[0.75,0.3],[1.2,0.35],[1.3,0.4],[1.75,1.6],[1.5,1.5],[1.35,1.3]];
const xScatter = [[0.15,0.35],[0.17,0.45],[0.2,0.6],[0.2,1.1],[0.22,0.3],[0.25,0.7],[0.25,0.2],[0.27,0.85],[0.3,0.15],[0.3,0.65],[0.3,1.3],[0.33,0.9],[0.35,0.5],[0.35,0.8],[0.38,0.55],[0.4,0.3],[0.4,0.95],[0.42,1.1],[0.45,0.45],[0.45,1.35],[0.5,0.25],[0.5,1.0],[0.55,1.05],[0.55,0.35],[0.6,1.35],[0.62,1.85],[0.65,1.05],[0.7,1.0],[0.72,1.4],[0.77,1.6],[0.78,1.85],[0.78,2.0],[0.8,1.5],[0.82,1.3],[0.85,1.2],[0.85,1.65],[0.9,1.4],[0.9,1.85],[0.95,1.25],[0.95,1.7],[0.95,2.0],[1.05,1.45],[1.05,1.7],[1.1,2.0],[1.12,1.8],[1.15,1.15],[1.2,1.75],[1.22,1.6],[1.25,2.05],[1.3,1.7],[1.35,2.1],[1.4,1.9],[1.42,1.65],[1.47,2.1],[1.55,2.05],[1.57,1.95],[1.52,1.0],[1.7,2.1],[1.78,2.1],[1.8,1.8],[1.88,2.0],[1.9,2.25],[1.95,1.9],[2.0,2.2],[2.05,2.1],[2.15,2.4],[2.22,2.4],[2.35,2.45],[2.45,2.25],[2.5,2.5],[2.52,2.35],[2.7,2.45],[2.7,2.5],[2.75,2.4],[2.82,2.3],[3.0,2.2],[3.05,2.1],[3.2,2.2],[3.3,2.4],[3.32,2.15],[3.4,1.95],[3.5,1.85],[3.55,1.6],[3.55,1.3],[1.95,1.85],[2.0,1.55],[2.05,1.6],[2.1,1.45],[2.12,1.35],[1.95,1.35],[2.25,1.45],[2.2,1.2],[2.3,1.25],[2.35,1.3],[2.4,1.1],[2.45,1.55],[2.55,1.45],[2.6,1.1],[2.65,1.55],[2.7,1.7],[2.75,2.1],[2.75,1.45],[2.8,1.2],[2.85,1.6],[2.9,1.85],[2.9,2.05],[2.95,1.5],[2.95,1.25],[3.0,1.65],[3.05,1.9],[3.1,1.3],[3.15,1.5],[3.15,1.0],[3.2,1.8],[3.25,1.55],[3.1,1.05],[2.0,1.75],[2.45,1.8],[2.8,2.0],[1.85,0.75],[1.9,0.65],[1.95,0.5],[2.05,0.75],[2.05,0.95],[2.1,0.45],[2.2,0.4],[2.25,0.55],[2.35,0.4],[2.4,0.5],[2.45,0.35],[2.5,0.8],[2.55,0.7],[2.6,0.45],[2.65,0.3],[2.7,0.55],[2.75,0.85],[2.8,0.65],[2.85,0.35],[2.95,0.3],[3.0,0.5],[3.1,0.35],[3.15,0.6],[3.2,0.4],[3.25,0.8],[3.3,0.7],[3.35,0.5],[3.4,0.35],[3.45,0.6],[3.5,0.45],[3.55,0.5],[3.58,0.55],[2.55,0.3],[2.75,0.3],[3.05,0.3],[3.25,0.33],[3.45,0.4],[2.9,0.33],[3.35,0.32]];

const toSeries = (day: number, pts: number[][]) => pts.map(([h, v]) => ({ t: day + h / 24, v }));
const toXY = (pts: number[][]) => pts.map(([x, y]) => ({ x, y }));

function TimeTick(props: any) {
  const { x, y, payload } = props;
  const i = tickDays.findIndex((d) => Math.abs(d - payload.value) < 1e-6);
  if (i < 0) return null;
  return (
    <text x={x} y={y} textAnchor="middle" fontSize={18} fontFamily={SANS} fill="#000">
      <tspan x={x} dy={34}>{tickDates[i]}</tspan>
      <tspan x={x} dy={23}>{tickTimes[i]}</tspan>
    </text>
  );
}

const Diamond = (p: any) => (
  <polygon points={`${p.cx},${p.cy - 6.5} ${p.cx + 6.5},${p.cy} ${p.cx},${p.cy + 6.5} ${p.cx - 6.5},${p.cy}`} fill={NAVY} />
);
const Square = (p: any) => <rect x={p.cx - 5.5} y={p.cy - 5.5} width={11} height={11} fill={NAVY} />;
const Triangle = (p: any) => (
  <polygon points={`${p.cx},${p.cy - 6} ${p.cx + 5.5},${p.cy + 4.5} ${p.cx - 5.5},${p.cy + 4.5}`} fill="none" stroke={NAVY} strokeWidth={1.8} />
);
const Ring = (p: any) => <circle cx={p.cx} cy={p.cy} r={4.5} fill="none" stroke={NAVY} strokeWidth={2} />;

type Box = { l: number; t: number; r: number; b: number };

const Units = ({ sup = true }: { sup?: boolean }) =>
  sup ? (
    <span>
      (mmol m<sup style={{ fontSize: "0.65em", lineHeight: 0 }}>-2</sup> s<sup style={{ fontSize: "0.65em", lineHeight: 0 }}>-1</sup>)
    </span>
  ) : (
    <span>(mmol m-2 s-1)</span>
  );

const abs = (x: number, y: number, rotate = false, size = 18): React.CSSProperties => ({
  position: "absolute",
  left: x,
  top: y,
  transform: rotate ? "translate(-50%, -50%) rotate(-90deg)" : "translate(-50%, -50%)",
  whiteSpace: "pre",
  fontFamily: SANS,
  fontWeight: "bold",
  fontSize: size,
  lineHeight: "20px",
  color: "#000",
});

function Frame({ box }: { box: Box }) {
  return (
    <div
      style={{
        position: "absolute",
        left: box.l - 1,
        top: box.t - 1,
        width: box.r - box.l + 2,
        height: box.b - box.t + 2,
        border: "2px solid #000",
        boxSizing: "border-box",
        pointerEvents: "none",
      }}
    />
  );
}

function TimePanel(props: { box: Box; title: string; titleX: number; titleY: number; labelX: number; labelY: number; mes: number[][][]; sim: number[][][] }) {
  const { box, mes, sim } = props;
  return (
    <>
      <div style={{ position: "absolute", left: 0, top: box.t - 20 }}>
        <LineChart width={box.r + 10} height={box.b - box.t + 90} margin={{ top: 20, right: 10, bottom: 10, left: box.l - 40 }}>
          <XAxis
            dataKey="t"
            type="number"
            domain={[15.25, 19]}
            ticks={tickDays}
            interval={0}
            tick={TimeTick}
            tickSize={-6}
            tickMargin={6}
            height={60}
            axisLine={{ stroke: "#000", strokeWidth: 3 }}
            tickLine={{ stroke: "#000", strokeWidth: 1.5 }}
          />
          <YAxis
            type="number"
            domain={[0, 6]}
            ticks={yTicks6}
            interval={0}
            width={40}
            tickSize={-6}
            tickMargin={20}
            tick={{ fontSize: 18, fill: "#000", fontFamily: SANS }}
            axisLine={{ stroke: "#000", strokeWidth: 3 }}
            tickLine={{ stroke: "#000", strokeWidth: 1.5 }}
          />
          {mes.map((pts, i) => (
            <Line key={"m" + i} data={toSeries(dayStarts[i], pts)} dataKey="v" type="linear" stroke={NAVY} strokeWidth={2} dot={false} isAnimationActive={false} />
          ))}
          {sim.map((pts, i) => (
            <Line key={"s" + i} data={toSeries(dayStarts[i], pts)} dataKey="v" type="linear" stroke={RED} strokeWidth={2} dot={false} isAnimationActive={false} />
          ))}
        </LineChart>
      </div>
      <Frame box={box} />
      <div style={{ ...abs(props.titleX, props.titleY, false, 19), transform: "translate(0, -50%)" }}>{props.title}</div>
      <div style={abs(props.labelX, props.labelY, true, 20)}>
        Transpiration <Units />
      </div>
    </>
  );
}

function ScatterPanel(props: {
  box: Box;
  max: number;
  pts: number[][];
  shape: any;
  stats: string[];
  statsX: number;
  statsY: number;
  yTitle: string;
  y1: [number, number];
  y2: [number, number];
  supY: boolean;
  xc: number;
  x1: number;
  x2: number;
}) {
  const { box, max } = props;
  const ticks = Array.from({ length: max + 1 }, (_, i) => i);
  return (
    <>
      <div style={{ position: "absolute", left: box.l - 60, top: box.t - 20 }}>
        <ScatterChart width={box.r - box.l + 70} height={box.b - box.t + 70} margin={{ top: 20, right: 10, bottom: 10, left: 20 }}>
          <XAxis
            dataKey="x"
            type="number"
            domain={[0, max]}
            ticks={ticks}
            interval={0}
            height={40}
            tickSize={-6}
            tickMargin={27}
            tick={{ fontSize: 18, fill: "#000", fontFamily: SANS }}
            axisLine={{ stroke: "#000", strokeWidth: 3 }}
            tickLine={{ stroke: "#000", strokeWidth: 1.5 }}
          />
          <YAxis
            dataKey="y"
            type="number"
            domain={[0, max]}
            ticks={ticks}
            interval={0}
            width={40}
            tickSize={-6}
            tickMargin={18}
            tick={{ fontSize: 18, fill: "#000", fontFamily: SANS }}
            axisLine={{ stroke: "#000", strokeWidth: 3 }}
            tickLine={{ stroke: "#000", strokeWidth: 1.5 }}
          />
          <Scatter data={toXY(props.pts)} shape={props.shape} fill={NAVY} isAnimationActive={false} />
          <ReferenceLine segment={[{ x: 0, y: 0 }, { x: max, y: max }]} stroke="#000" strokeWidth={1.3} strokeDasharray="7 5" />
        </ScatterChart>
      </div>
      <Frame box={box} />
      <div
        style={{
          position: "absolute",
          left: props.statsX,
          top: props.statsY - 12,
          fontFamily: SERIF,
          fontWeight: "bold",
          fontSize: 20,
          lineHeight: "25px",
          color: RED,
          whiteSpace: "pre",
        }}
      >
        <div>
          <i>RMSE</i> = {props.stats[0]}
        </div>
        <div>
          <i>biais</i>= {props.stats[1]}
        </div>
        <div>RMSER = {props.stats[2]}</div>
      </div>
      <div style={abs(props.y1[0], props.y1[1], true, 19)}>{props.yTitle}</div>
      <div style={abs(props.y2[0], props.y2[1], true, 19)}>
        <Units sup={props.supY} />
      </div>
      <div style={abs(props.xc, props.x1, false, 19)}>Flux de sève mesurés</div>
      <div style={abs(props.xc, props.x2, false, 19)}>
        <Units />
      </div>
    </>
  );
}

export default function App() {
  return (
    <div style={{ position: "absolute", left: 0, top: 0, width: 1136, height: 1803, background: "#fff", overflow: "hidden" }}>
      <div style={{ position: "absolute", left: 7, top: 9, width: 1129, height: 2, background: "#3ccccc" }} />
      <div style={{ position: "absolute", left: 7, top: 9, width: 2, height: 1794, background: "#3ccccc" }} />

      <TimePanel
        box={{ l: 90, t: 26, r: 727, b: 374 }}
        title="Fuji 42"
        titleX={108}
        titleY={50}
        labelX={44}
        labelY={201}
        mes={[fujiMes15, fujiMes16, fujiMes17, fujiMes18]}
        sim={[fujiSim15, fujiSim16, fujiSim17, fujiSim18]}
      />
      <TimePanel
        box={{ l: 92, t: 462, r: 727, b: 808 }}
        title="Braeburn 54"
        titleX={116}
        titleY={491}
        labelX={46}
        labelY={635}
        mes={[braeMes15, braeMes16, braeMes17, braeMes18]}
        sim={[braeSim15, braeSim16, braeSim17, braeSim18]}
      />
      <TimePanel
        box={{ l: 94, t: 902, r: 729, b: 1248 }}
        title="Ariane C2.1"
        titleX={119}
        titleY={927}
        labelX={47}
        labelY={1050}
        mes={[arMes15, arMes16, arMes17, arMes18]}
        sim={[arSim15, arSim16, arSim17, arSim18]}
      />
      <TimePanel
        box={{ l: 96, t: 1342, r: 729, b: 1696 }}
        title="X3305 B6.4"
        titleX={117}
        titleY={1370}
        labelX={49}
        labelY={1522}
        mes={[xMes15, xMes16, xMes17, xMes18]}
        sim={[xSim15, xSim16, xSim17, xSim18]}
      />
      <div style={abs(426, 1788, false, 19)}>Temps</div>

      <ScatterPanel
        box={{ l: 815, t: 43, r: 1117, b: 287 }}
        max={6}
        pts={fujiScatter}
        shape={Diamond}
        stats={["0.73", "0.17", "0.29"]}
        statsX={822}
        statsY={57}
        yTitle={"Transpiration  simulée"}
        y1={[752, 165]}
        y2={[783, 164]}
        supY={true}
        xc={967}
        x1={338}
        x2={367}
      />
      <ScatterPanel
        box={{ l: 818, t: 483, r: 1119, b: 729 }}
        max={4}
        pts={braeScatter}
        shape={Square}
        stats={["0.69", "-0.46", "0.43"]}
        statsX={828}
        statsY={500}
        yTitle={"Transpiration simulée"}
        y1={[754, 600]}
        y2={[781, 598]}
        supY={false}
        xc={976}
        x1={771}
        x2={800}
      />
      <ScatterPanel
        box={{ l: 821, t: 926, r: 1119, b: 1160 }}
        max={5}
        pts={arScatter}
        shape={Triangle}
        stats={["1.66", "-0.95", "0.60"]}
        statsX={828}
        statsY={946}
        yTitle={"Transpiration  simulée"}
        y1={[756, 1040]}
        y2={[785, 1037]}
        supY={true}
        xc={982}
        x1={1203}
        x2={1231}
      />
      <ScatterPanel
        box={{ l: 821, t: 1365, r: 1121, b: 1620 }}
        max={4}
        pts={xScatter}
        shape={Ring}
        stats={["1.76", "-1.15", "0.77"]}
        statsX={828}
        statsY={1383}
        yTitle={"Transpiration simulée"}
        y1={[755, 1494]}
        y2={[784, 1488]}
        supY={true}
        xc={975}
        x1={1661}
        x2={1689}
      />
    </div>
  );
}
